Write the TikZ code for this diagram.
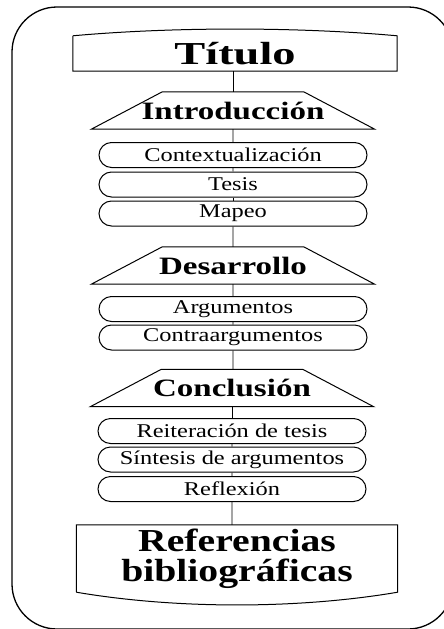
\documentclass[tikz,border=0pt]{standalone}
\usepackage{fontspec}
\setmainfont{Liberation Serif}
\newfontfamily\fuentetitulo[FakeStretch=1.45]{Liberation Serif}
\newfontfamily\fuenteseccion[FakeStretch=1.32]{Liberation Serif}
\newfontfamily\fuenteapartado[FakeStretch=1.25]{Liberation Serif}
\newfontfamily\fuenteref[FakeStretch=1.24]{Liberation Serif}
\usetikzlibrary{shapes.misc}

\newcommand{\centrado}[1]{\makebox[0pt]{#1}}

\tikzset{
  caja/.style={rectangle, inner sep=0pt},
  seccion/.style={rectangle, minimum width=141pt, minimum height=37pt,
    inner sep=0pt, font=\fuenteseccion\bfseries\fontsize{25}{27}\selectfont},
  apartado/.style={draw, line width=1pt, rounded rectangle, minimum width=268pt,
    minimum height=25pt, inner sep=0pt,
    font=\fuenteapartado\fontsize{19.5}{22}\selectfont},
  borde/.style={line width=1pt},
  enlace/.style={line width=0.8pt},
}

\begin{document}
\begin{tikzpicture}[x=1pt, y=-1pt]
\clip (0,0) rectangle (444,629);
% marco
\draw[line width=1.3pt, rounded corners=45pt] (12,7) rectangle (453,629);
% titulo
\node[caja, minimum width=324pt, minimum height=35pt,
  font=\fuentetitulo\bfseries\fontsize{32}{34}\selectfont] (titulo) at (235,53.5) {Título};
\draw[borde] (titulo.north west) -- (titulo.south west) -- (titulo.south east)
  -- (titulo.north east) .. controls +(-100,-9) and +(100,-9) .. (titulo.north west);
% introduccion
\node[seccion] (intro) at (233,110.5) {\centrado{Introducción}};
\draw[borde] (intro.north west) -- (intro.north east) -- ([xshift=71pt]intro.south east)
  -- ([xshift=-71pt]intro.south west) -- cycle;
\node[apartado] (contexto) at (233,155) {Contextualización};
\node[apartado] (tesis) at (233,184.5) {Tesis};
\node[apartado] (mapeo) at (233,213.5) {Mapeo};
% desarrollo
\node[seccion] (desarrollo) at (233,265.5) {\centrado{Desarrollo}};
\draw[borde] (desarrollo.north west) -- (desarrollo.north east) -- ([xshift=71pt]desarrollo.south east)
  -- ([xshift=-71pt]desarrollo.south west) -- cycle;
\node[apartado] (argumentos) at (233,309) {Argumentos};
\node[apartado] (contra) at (233,337.5) {Contraargumentos};
% conclusion
\node[seccion] (conclusion) at (232,388) {\centrado{Conclusión}};
\draw[borde] (conclusion.north west) -- (conclusion.north east) -- ([xshift=71pt]conclusion.south east)
  -- ([xshift=-71pt]conclusion.south west) -- cycle;
\node[apartado] (reiteracion) at (232,431) {Reiteración de tesis};
\node[apartado] (sintesis) at (232,459.5) {Síntesis de argumentos};
\node[apartado] (reflexion) at (232,489) {Reflexión};
% referencias
\node[caja, minimum width=321pt, minimum height=67pt, align=center,
  font=\fuenteref\bfseries\fontsize{32}{29}\selectfont] (refs) at (237,558.5)
  {Referencias\\[1pt]bibliográficas};
\draw[borde] (refs.south west) -- (refs.north west) -- (refs.north east)
  -- (refs.south east) .. controls +(-100,17) and +(100,17) .. (refs.south west);
% enlaces
\draw[enlace] (intro) -- (intro |- titulo.south);
\draw[enlace] (intro) -- (contexto);
\draw[enlace] (contexto) -- (tesis);
\draw[enlace] (tesis) -- (mapeo);
\draw[enlace] (mapeo) -- (desarrollo);
\draw[enlace] (desarrollo) -- (argumentos);
\draw[enlace] (argumentos) -- (contra);
\draw[enlace] (contra) -- (contra |- conclusion.north);
\draw[enlace] (conclusion) -- (conclusion |- reiteracion.north);
\draw[enlace] (reiteracion) -- (sintesis);
\draw[enlace] (sintesis) -- (reflexion);
\draw[enlace] (reflexion) -- (reflexion |- refs.north);
\end{tikzpicture}
\end{document}
